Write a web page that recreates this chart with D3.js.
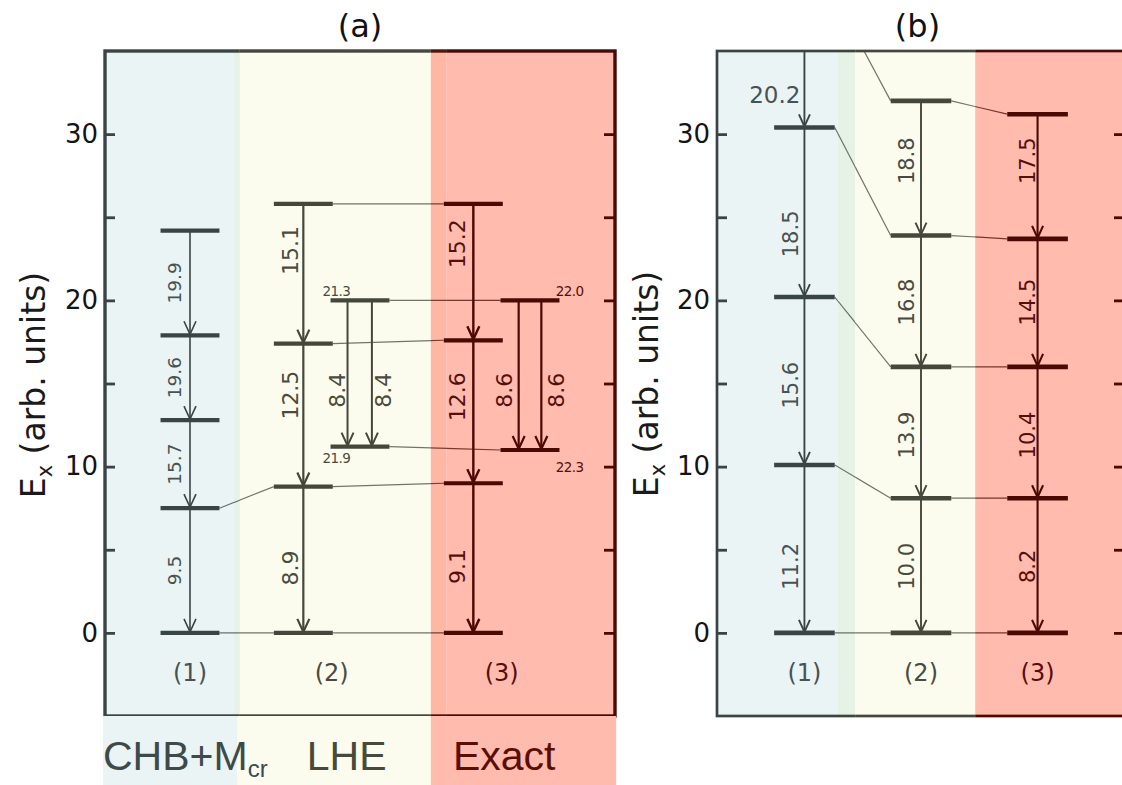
<!DOCTYPE html>
<html>
<head>
<meta charset="utf-8">
<script src="https://cdn.jsdelivr.net/npm/d3@7"></script>
<style>
  html, body { margin: 0; padding: 0; background: #fff; }
  svg { display: block; }
</style>
</head>
<body>
<svg id="chart" width="1122" height="785"></svg>
<script>
// ---------------- data (energies in arb. units, listed bottom to top) ----------------
const yTickValues = [0, 5, 10, 15, 20, 25, 30];
const yLabelledTicks = [0, 10, 20, 30];
const panelTitles = ["(a)", "(b)"];
const columnNames = ["(1)", "(2)", "(3)"];
const methodNames = ["CHB+M", "LHE", "Exact"];
const methodSubscript = "cr";
const axisTitle = ["E", "x", " (arb. units)"];

// panel (a)
const aCol1Levels = [0, 7.5, 12.8, 17.9, 24.2];
const aCol1Values = ["9.5", "15.7", "19.6", "19.9"];
const aCol2Levels = [0, 8.8, 17.4, 25.8];
const aCol2Values = ["8.9", "12.5", "15.1"];
const aCol2SideLevels = [11.2, 20.0];
const aCol2SideNames = ["21.9", "21.3"];
const aCol2SideValues = ["8.4", "8.4"];
const aCol3Levels = [0, 9.0, 17.6, 25.8];
const aCol3Values = ["9.1", "12.6", "15.2"];
const aCol3SideLevels = [11.0, 20.0];
const aCol3SideNames = ["22.3", "22.0"];
const aCol3SideValues = ["8.6", "8.6"];

// panel (b)
const bCol1Levels = [0, 10.1, 20.2, 30.4, 38.3];
const bCol1Values = ["11.2", "15.6", "18.5", "20.2"];
const bCol2Levels = [0, 8.1, 16.0, 23.9, 32.0];
const bCol2Values = ["10.0", "13.9", "16.8", "18.8"];
const bCol3Levels = [0, 8.1, 16.0, 23.7, 31.2];
const bCol3Values = ["8.2", "10.4", "14.5", "17.5"];

// ---------------- layout ----------------
const W = 1122, H = 785;
const FONT = "'DejaVu Sans', Verdana, sans-serif";
const LEGEND_FONT = "'Liberation Sans', Arial, sans-serif";

const svg = d3.select("#chart");
const defs = svg.append("defs");
svg.append("rect").attr("width", W).attr("height", H).attr("fill", "#fff");

const y = d3.scaleLinear().domain([-5, 35]).range([716, 51]);

const BLUE = { fill: "#EBF4F5", ink: "#394545", text: "#475353" };
const GREEN = { fill: "#E7F2E6", ink: "#3C473B", text: "#475347" };
const CREAM = { fill: "#FBFCEE", ink: "#45473A", text: "#4A4B3E" };
const OVERLAP = { fill: "#FDB7A3", ink: "#4F1408", text: "#57150B" };
const PINK = { fill: "#FFBBAE", ink: "#4A0902", text: "#560F08" };

const xA = d3.scaleLinear().domain([0, 9]).range([105, 615]);
const xB = d3.scaleLinear().domain([0, 7]).range([717, 1125]);

// stacks of levels (slot = horizontal position in panel units)
const aS1 = { slot: 1.5, levels: aCol1Levels, values: aCol1Values, arrows: [{ off: 0, side: "left" }],
  arrowW: 1.6, font: 18.5, gap: 9, labelAt: null };
const aS2 = { slot: 3.5, levels: aCol2Levels, values: aCol2Values, arrows: [{ off: 0, side: "left" }],
  arrowW: 2.2, font: 22, gap: 5, labelAt: [3.9, 14.3, 23.0] };
const aS2s = { slot: 4.5, levels: aCol2SideLevels, values: aCol2SideValues,
  arrows: [{ off: -0.22, side: "left" }, { off: 0.21, side: "right" }],
  arrowW: 2.0, font: 22, gap: 3, labelAt: [14.6],
  names: aCol2SideNames, namePos: ["below-left", "above-left"] };
const aS3 = { slot: 6.5, levels: aCol3Levels, values: aCol3Values, arrows: [{ off: 0, side: "left" }],
  arrowW: 2.4, font: 22, gap: 8, labelAt: [4.0, 14.2, 23.4] };
const aS3s = { slot: 7.5, levels: aCol3SideLevels, values: aCol3SideValues,
  arrows: [{ off: -0.2, side: "left" }, { off: 0.2, side: "right" }],
  arrowW: 2.2, font: 22, gap: 7, labelAt: [14.6],
  names: aCol3SideNames, namePos: ["below-right", "above-right"] };

const bS1 = { slot: 1.5, levels: bCol1Levels, values: bCol1Values, arrows: [{ off: 0, side: "left" }],
  arrowW: 1.9, font: 21, gap: 6, labelAt: [4.0, 14.9, 24.0, null], topHorizontal: true };
const bS2 = { slot: 3.5, levels: bCol2Levels, values: bCol2Values, arrows: [{ off: 0, side: "left" }],
  arrowW: 1.9, font: 21, gap: 7, labelAt: [4.0, 11.9, 19.9, 28.4] };
const bS3 = { slot: 5.5, levels: bCol3Levels, values: bCol3Values, arrows: [{ off: 0, side: "left" }],
  arrowW: 2.1, font: 21, gap: 3, labelAt: [4.0, 11.9, 19.9, 28.4] };

const panelA = {
  id: "a", x: xA, title: panelTitles[0], frameW: 3.4, half: 0.52, levelW: 4.2,
  head: { w: 6, l: 14 },
  bands: [
    { from: 0, to: 2.276, ...BLUE }, { from: 2.276, to: 2.38, ...GREEN },
    { from: 2.38, to: 5.75, ...CREAM }, { from: 5.75, to: 6.02, ...OVERLAP },
    { from: 6.02, to: 9, ...PINK }
  ],
  stacks: [aS1, aS2, aS2s, aS3, aS3s],
  links: [
    [aS1, 0, aS2, 0], [aS1, 1, aS2, 1],
    [aS2, 0, aS3, 0], [aS2, 1, aS3, 1], [aS2, 2, aS3, 2], [aS2, 3, aS3, 3],
    [aS2s, 0, aS3s, 0], [aS2s, 1, aS3s, 1]
  ],
  groups: [1.5, 4.0, 7.0],
  ylab: { x: 45, y: 385 }
};

const panelB = {
  id: "b", x: xB, title: panelTitles[1], frameW: 2.7, half: 0.52, levelW: 4.6,
  head: { w: 5.5, l: 13 },
  bands: [
    { from: 0, to: 2.076, ...BLUE }, { from: 2.076, to: 2.37, ...GREEN },
    { from: 2.37, to: 4.43, ...CREAM }, { from: 4.43, to: 7, ...PINK }
  ],
  stacks: [bS1, bS2, bS3],
  links: [
    [bS1, 0, bS2, 0], [bS1, 1, bS2, 1], [bS1, 2, bS2, 2], [bS1, 3, bS2, 3], [bS1, 4, bS2, 4],
    [bS2, 0, bS3, 0], [bS2, 1, bS3, 1], [bS2, 2, bS3, 2], [bS2, 3, bS3, 3], [bS2, 4, bS3, 4]
  ],
  groups: [1.5, 3.5, 5.5],
  ylab: { x: 658, y: 384 }
};

function drawPanel(P) {
  const x = P.x;
  const left = x.range()[0], right = x.range()[1];
  const top = y(35), bottom = y(-5);
  const root = svg.append("g").attr("class", "panel-" + P.id);
  const hw = x(P.half) - x(0);
  const bandAt = px => {
    const s = x.invert(px);
    if (s < P.bands[0].from) return P.bands[0];
    return P.bands.find(b => s >= b.from && s < b.to) || P.bands[P.bands.length - 1];
  };

  // coloured bands behind the diagram
  root.append("g").selectAll("rect").data(P.bands).join("rect")
    .attr("x", d => x(d.from)).attr("width", d => x(d.to) - x(d.from))
    .attr("y", top).attr("height", bottom - top)
    .attr("fill", d => d.fill);

  // clip regions: one per band, plus the plot interior
  P.bands.forEach((b, i) => {
    const x0 = i === 0 ? x(b.from) - 30 : x(b.from);
    const x1 = i === P.bands.length - 1 ? x(b.to) + 30 : x(b.to);
    defs.append("clipPath").attr("id", `clip-${P.id}-${i}`)
      .append("rect").attr("x", x0).attr("y", 0).attr("width", x1 - x0).attr("height", H);
  });
  defs.append("clipPath").attr("id", `clip-${P.id}-in`)
    .append("rect").attr("x", left).attr("y", top).attr("width", right - left).attr("height", bottom - top);

  const marks = root.append("g").attr("clip-path", `url(#clip-${P.id}-in)`);

  // thin connectors between corresponding levels, inked per band they cross
  P.bands.forEach((b, i) => {
    marks.append("g").attr("clip-path", `url(#clip-${P.id}-${i})`)
      .selectAll("line").data(P.links).join("line")
      .attr("x1", d => x(d[0].slot) + hw).attr("y1", d => y(d[0].levels[d[1]]))
      .attr("x2", d => x(d[2].slot) - hw).attr("y2", d => y(d[2].levels[d[3]]))
      .attr("stroke", b.ink).attr("stroke-opacity", 0.75).attr("stroke-width", 1.2);
  });

  P.stacks.forEach(S => {
    const cx = x(S.slot);
    const band = bandAt(cx);

    // transitions (arrows)
    const trans = [];
    if (S.arrows.length === 1) {
      for (let i = 0; i < S.levels.length - 1; i++) {
        trans.push({ from: S.levels[i + 1], to: S.levels[i], label: S.values[i],
          off: S.arrows[0].off, side: S.arrows[0].side,
          at: S.labelAt ? S.labelAt[i] : null,
          horizontal: S.topHorizontal && i === S.levels.length - 2 });
      }
    } else {
      S.arrows.forEach((a, k) => trans.push({ from: S.levels[1], to: S.levels[0], label: S.values[k],
        off: a.off, side: a.side, at: S.labelAt[0], horizontal: false }));
    }

    const g = marks.append("g");
    trans.forEach(t => {
      const ax = x(S.slot + t.off);
      const b = bandAt(ax);
      const y1 = y(t.from), y2 = y(t.to);
      g.append("line").attr("x1", ax).attr("x2", ax).attr("y1", y1).attr("y2", y2 - 1)
        .attr("stroke", b.ink).attr("stroke-width", S.arrowW);
      g.append("path")
        .attr("d", `M${ax - P.head.w},${y2 - P.head.l}L${ax},${y2 - 1}L${ax + P.head.w},${y2 - P.head.l}`)
        .attr("fill", "none").attr("stroke", b.ink).attr("stroke-width", S.arrowW)
        .attr("stroke-linejoin", "miter");
    });

    // levels
    g.selectAll("line.level").data(S.levels).join("line").attr("class", "level")
      .attr("x1", cx - hw).attr("x2", cx + hw)
      .attr("y1", d => y(d)).attr("y2", d => y(d))
      .attr("stroke", band.ink).attr("stroke-width", P.levelW);

    // transition values
    trans.forEach(t => {
      const ax = x(S.slot + t.off);
      const b = bandAt(ax);
      if (t.horizontal) {
        root.append("text")
          .attr("x", ax - 4).attr("y", y(t.to) - 24)
          .attr("text-anchor", "end").attr("font-family", FONT).attr("font-size", 23)
          .attr("fill", b.text).text(t.label);
        return;
      }
      const cy = y(t.at != null ? t.at : (t.from + t.to) / 2);
      const tx = t.side === "left" ? ax - S.gap : ax + S.gap;
      root.append("text")
        .attr("transform", `translate(${tx},${cy}) rotate(-90)`)
        .attr("dy", t.side === "left" ? 0 : "0.73em")
        .attr("text-anchor", "middle").attr("font-family", FONT).attr("font-size", S.font)
        .attr("fill", b.text).text(t.label);
    });

    // names written beside the side levels
    if (S.names) {
      S.names.forEach((nm, k) => {
        const pos = S.namePos[k];
        const ly = y(S.levels[k]);
        const isLeft = pos.endsWith("left");
        const above = pos.startsWith("above");
        root.append("text")
          .attr("x", isLeft ? cx - hw - 8 : cx + hw + 24)
          .attr("y", above ? ly - 4 : ly + (isLeft ? 16 : 22))
          .attr("text-anchor", isLeft ? "start" : "end")
          .attr("font-family", FONT).attr("font-size", 13.5).attr("letter-spacing", -0.6)
          .attr("fill", band.text).text(nm);
      });
    }
  });

  // frame, inked per band
  P.bands.forEach((b, i) => {
    root.append("rect").attr("clip-path", `url(#clip-${P.id}-${i})`)
      .attr("x", left).attr("y", top).attr("width", right - left).attr("height", bottom - top)
      .attr("fill", "none").attr("stroke", b.ink).attr("stroke-width", P.frameW);
  });

  // inward ticks on both vertical axes
  const leftTicks = root.append("g").attr("transform", `translate(${left},0)`)
    .call(d3.axisRight(y).tickValues(yTickValues).tickSize(10).tickSizeOuter(0).tickFormat(""));
  leftTicks.select(".domain").remove();
  leftTicks.selectAll("line").attr("stroke", P.bands[0].ink).attr("stroke-width", 2.8);

  const rightTicks = root.append("g").attr("transform", `translate(${right},0)`)
    .call(d3.axisLeft(y).tickValues(yTickValues).tickSize(11).tickSizeOuter(0).tickFormat(""));
  rightTicks.select(".domain").remove();
  rightTicks.selectAll("line").attr("stroke", P.bands[P.bands.length - 1].ink).attr("stroke-width", 2.8);

  // tick labels
  const lab = root.append("g").attr("transform", `translate(${left},0)`)
    .call(d3.axisLeft(y).tickValues(yLabelledTicks).tickSize(0).tickPadding(7));
  lab.select(".domain").remove();
  lab.selectAll("text").attr("font-family", FONT).attr("font-size", 26).attr("fill", "#141414");

  // column names
  root.append("g").selectAll("text").data(P.groups).join("text")
    .attr("x", d => x(d)).attr("y", 681)
    .attr("text-anchor", "middle").attr("font-family", FONT).attr("font-size", 24)
    .attr("fill", d => bandAt(x(d)).text)
    .text((d, i) => columnNames[i]);

  // panel title
  root.append("text").attr("x", (left + Math.min(right, W)) / 2 + (P.id === "b" ? -2 : 0)).attr("y", 37)
    .attr("text-anchor", "middle").attr("font-family", FONT).attr("font-size", 32)
    .attr("fill", "#111").text(P.title);

  // vertical axis title
  const yl = root.append("text")
    .attr("transform", `translate(${P.ylab.x},${P.ylab.y}) rotate(-90)`)
    .attr("text-anchor", "middle").attr("font-family", FONT).attr("font-size", 33)
    .attr("fill", "#1a1a1a");
  yl.append("tspan").text(axisTitle[0]);
  yl.append("tspan").attr("font-size", 21).attr("dy", 7).text(axisTitle[1]);
  yl.append("tspan").attr("dy", -7).text(axisTitle[2]);
}

drawPanel(panelA);
drawPanel(panelB);

// method key under panel (a)
const key = svg.append("g").attr("class", "method-key");
const keyBands = [
  { from: -0.035, to: 2.33, fill: BLUE.fill, color: "#3E4A4A", at: -0.035 },
  { from: 2.33, to: 5.75, fill: CREAM.fill, color: "#47493B", at: 3.56 },
  { from: 5.75, to: 9.02, fill: PINK.fill, color: "#5C0E06", at: 6.14 }
];
key.selectAll("rect").data(keyBands).join("rect")
  .attr("x", d => xA(d.from)).attr("width", d => xA(d.to) - xA(d.from))
  .attr("y", y(-5)).attr("height", H - y(-5))
  .attr("fill", d => d.fill);
keyBands.forEach((d, i) => {
  const t = key.append("text")
    .attr("x", xA(d.at)).attr("y", 770)
    .attr("font-family", LEGEND_FONT).attr("font-size", 41)
    .attr("fill", d.color).text(methodNames[i]);
  if (i === 0) {
    t.append("tspan").attr("font-size", 24).attr("dy", 7).text(methodSubscript);
  }
});
</script>
</body>
</html>
